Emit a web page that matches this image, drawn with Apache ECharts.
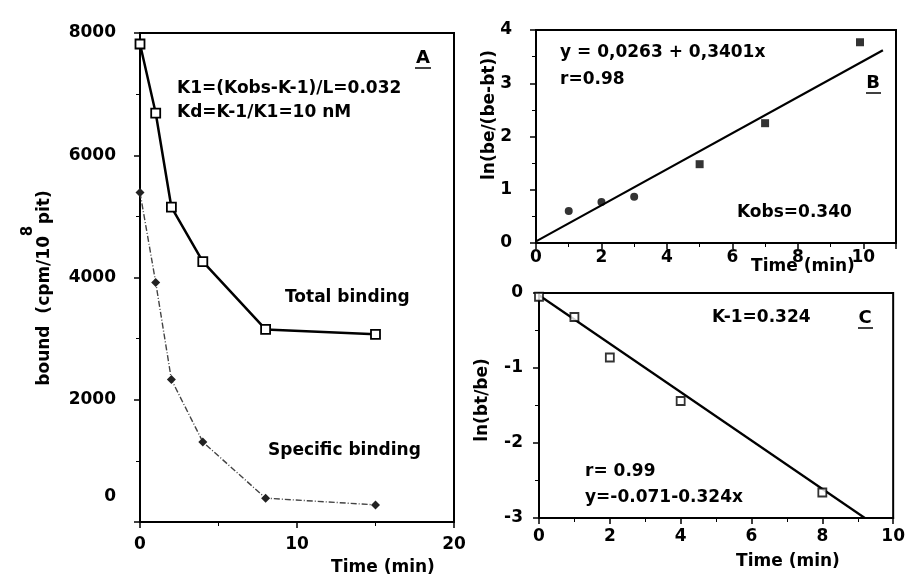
<!DOCTYPE html>
<html>
<head>
<meta charset="utf-8">
<script src="https://cdn.jsdelivr.net/npm/echarts@6/dist/echarts.min.js"></script>
<style>html,body{margin:0;padding:0;background:#fff}#c{width:908px;height:579px}</style>
</head>
<body>
<div id="c"></div>
<script>
// Panel A
var timeA = [0, 1, 2, 4, 8, 15];
var totalA = [7820, 6690, 5150, 4260, 3150, 3070];
var specificA = [5390, 3920, 2330, 1310, 390, 280];
var xTicksA = [0, 10, 20];
var yTicksA = [0, 2000, 4000, 6000, 8000];
// Panel B
var timeB = [1, 2, 3, 5, 7, 9.9];
var lnB = [0.6, 0.77, 0.87, 1.48, 2.25, 3.77];
var fitBx = [0, 10.6];
var fitBy = [0.03, 3.62];
// Panel C
var timeC = [0, 1, 2, 4, 8];
var lnC = [-0.05, -0.32, -0.86, -1.44, -2.66];
var fitCx = [0, 9.2];
var fitCy = [-0.03, -3];

function pairs(xs, ys){ return xs.map(function(x,i){ return [x, ys[i]]; }); }

var FONT = 'DejaVu Sans';
var lab = {color:'#000', fontFamily:FONT, fontWeight:'bold', fontSize:17};
function axisCommon(extra){
  var o = {
    axisLine:{show:true, onZero:false, lineStyle:{color:'#000', width:2}},
    axisTick:{show:true, inside:false, length:6, lineStyle:{color:'#000', width:1.5}},
    minorTick:{show:true, splitNumber:2, length:4, lineStyle:{color:'#000', width:1}},
    splitLine:{show:false},
    axisLabel:Object.assign({}, lab)
  };
  for (var k in extra) {
    if (k === 'axisLabel') Object.assign(o.axisLabel, extra[k]); else o[k] = extra[k];
  }
  return o;
}

function txt(x, y, s, opt){
  opt = opt || {};
  return {type:'text', x:x, y:y, rotation:opt.rot||0,
    style:{text:s, fill:'#000', font:'bold ' + (opt.size||17) + 'px "' + FONT + '"',
      textAlign:opt.align||'left', textVerticalAlign:'middle'}};
}
function uline(x1, x2, y){
  return {type:'line', shape:{x1:x1, y1:y, x2:x2, y2:y}, style:{stroke:'#000', lineWidth:1.5}};
}

var chart = echarts.init(document.getElementById('c'), null, {renderer:'canvas'});
chart.setOption({
  animation:false,
  backgroundColor:'#fff',
  grid:[
    {left:140, top:33, width:314, height:489, show:true, borderColor:'#000', borderWidth:2, backgroundColor:'transparent'},
    {left:536, top:30, width:360, height:213, show:true, borderColor:'#000', borderWidth:2, backgroundColor:'transparent'},
    {left:539, top:293, width:362, height:225, show:true, borderColor:'#000', borderWidth:2, backgroundColor:'transparent'}
  ],
  xAxis:[
    axisCommon({gridIndex:0, type:'value', min:xTicksA[0], max:xTicksA[xTicksA.length-1], interval:10,
      axisLabel:{margin:14}}),
    axisCommon({gridIndex:1, type:'value', min:0, max:11, interval:2,
      axisLabel:{margin:6, showMaxLabel:false}}),
    axisCommon({gridIndex:2, type:'value', min:0, max:10, interval:2,
      axisLabel:{margin:10}})
  ],
  yAxis:[
    axisCommon({gridIndex:0, type:'value', min:yTicksA[0], max:yTicksA[yTicksA.length-1], interval:2000,
      axisLabel:{margin:24, formatter:function(v){ return v===0 ? '{z|0}' : String(v); },
        rich:{z:{fontFamily:FONT, fontWeight:'bold', fontSize:17, color:'#000', padding:[0,0,50,0]}}}}),
    axisCommon({gridIndex:1, type:'value', min:0, max:4, interval:1, axisLabel:{margin:24}}),
    axisCommon({gridIndex:2, type:'value', min:-3, max:0, interval:1, axisLabel:{margin:16}})
  ],
  series:[
    {type:'line', xAxisIndex:0, yAxisIndex:0, data:pairs(timeA, totalA),
      symbol:'rect', symbolSize:9, lineStyle:{color:'#000', width:2.5},
      itemStyle:{color:'#fff', borderColor:'#000', borderWidth:1.8}, z:3},
    {type:'line', xAxisIndex:0, yAxisIndex:0, data:pairs(timeA, specificA),
      symbol:'diamond', symbolSize:9, lineStyle:{color:'#444', width:1.4, type:[6,2,1,2]},
      itemStyle:{color:'#222', borderColor:'#222', borderWidth:0}, z:3},
    {type:'scatter', xAxisIndex:1, yAxisIndex:1, data:pairs(timeB, lnB),
      symbol:function(v, p){ return p.dataIndex < 3 ? 'circle' : 'rect'; }, symbolSize:8,
      itemStyle:{color:'#000'}, z:3},
    {type:'line', xAxisIndex:1, yAxisIndex:1, data:pairs(fitBx, fitBy), symbol:'none',
      lineStyle:{color:'#000', width:2.2}},
    {type:'scatter', xAxisIndex:2, yAxisIndex:2, data:pairs(timeC, lnC),
      symbol:'rect', symbolSize:8, itemStyle:{color:'#fff', borderColor:'#000', borderWidth:1.8}, z:3},
    {type:'line', xAxisIndex:2, yAxisIndex:2, data:pairs(fitCx, fitCy), symbol:'none',
      lineStyle:{color:'#000', width:2.2}}
  ],
  graphic:[
    // Panel A texts
    txt(423, 58, 'A', {align:'center', size:18}), uline(415, 431, 68),
    txt(177, 89, 'K1=(Kobs-K-1)/L=0.032'),
    txt(177, 113, 'Kd=K-1/K1=10 nM'),
    txt(285, 298, 'Total binding'),
    txt(268, 451, 'Specific binding'),
    txt(383, 568, 'Time (min)', {align:'center'}),
    txt(45, 288, 'bound  (cpm/10  pit)', {align:'center', rot:Math.PI/2}),
    txt(28, 231, '8', {align:'center', rot:Math.PI/2, size:15}),
    // Panel B texts
    txt(560, 53, 'y = 0,0263 + 0,3401x'),
    txt(560, 80, 'r=0.98'),
    txt(873, 83, 'B', {align:'center', size:18}), uline(866, 881, 93),
    txt(737, 213, 'Kobs=0.340'),
    txt(803, 267, 'Time (min)', {align:'center'}),
    txt(490, 115, 'ln(be/(be-bt))', {align:'center', rot:Math.PI/2}),
    // Panel C texts
    txt(712, 318, 'K-1=0.324'),
    txt(865, 318, 'C', {align:'center', size:18}), uline(858, 873, 328),
    txt(585, 472, 'r= 0.99'),
    txt(585, 498, 'y=-0.071-0.324x'),
    txt(788, 562, 'Time (min)', {align:'center'}),
    txt(483, 400, 'ln(bt/be)', {align:'center', rot:Math.PI/2})
  ]
});
</script>
</body>
</html>
